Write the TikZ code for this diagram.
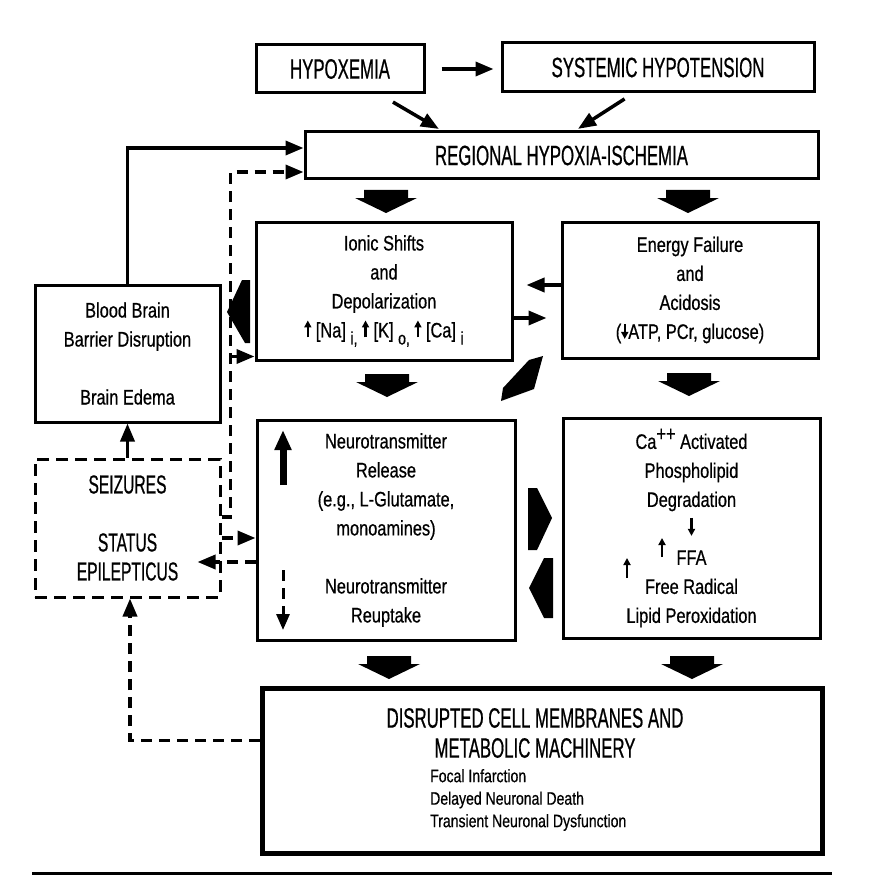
\documentclass[tikz,border=0pt]{standalone}
\usepackage{fontspec}
\setmainfont{Liberation Sans}
\newfontfamily\bodyfont{Liberation Sans}[FakeStretch=0.78, FakeBold=0.6]
\newfontfamily\capsfont{Liberation Sans}[FakeStretch=0.6, FakeBold=0.6]
\usetikzlibrary{arrows.meta,calc}

\tikzset{
  box/.style={draw, line width=3pt, inner sep=0pt, align=center, font=\bodyfont\fontsize{21}{29}\selectfont},
  capsbox/.style={box, font=\capsfont\fontsize{28}{29}\selectfont},
  dashbox/.style={dash pattern=on 12pt off 7pt},
  arr/.style={-{Triangle[length=18pt,width=14pt]}, line width=3.5pt},
  dasharr/.style={arr, dash pattern=on 11pt off 7pt},
  tinyarr/.style={-{Triangle[length=7pt,width=7pt]}, line width=2.2pt, solid},
  blockdown/.pic={\fill (-22,0) -- (22,0) -- (22,8) -- (31,8) -- (0,23) -- (-31,8) -- (-22,8) -- cycle;}
}
\newcommand\upmark[1][17pt]{\tikz[baseline=0pt]\draw[tinyarr] (0pt,0pt) -- (0pt,#1);}
\newcommand\downmark[1][15pt]{\tikz[baseline=0pt]\draw[tinyarr] (0pt,#1) -- (0pt,0pt);}
\newcommand\ionsub[1]{\lower7pt\hbox{\fontsize{18}{18}\selectfont #1}}

\begin{document}
\begin{tikzpicture}[x=1pt, y=-1pt]
  \useasboundingbox (0,0) rectangle (890,896);

  % top row
  \node[capsbox, minimum width=168pt, minimum height=48pt] (hypox) at (340,69) {HYPOXEMIA};
  \node[capsbox, minimum width=312pt, minimum height=49pt] (syst) at (658,67.5) {SYSTEMIC HYPOTENSION};
  \node[capsbox, minimum width=513pt, minimum height=47pt] (regional) at (561.5,155.5) {REGIONAL HYPOXIA-ISCHEMIA};

  % middle row
  \node[box, minimum width=256pt, minimum height=138pt] (ionic) at (384,291)
    {Ionic Shifts\\ and\\ Depolarization\\ \upmark\ [Na] \ionsub{i,}\ \upmark\ [K] \ionsub{o,}\ \upmark\ [Ca] \ionsub{i}};
  \node[box, minimum width=256pt, minimum height=136pt] (energy) at (690,290)
    {Energy Failure\\ and\\ Acidosis\\ (\downmark ATP, PCr, glucose)};
  \node[box, minimum width=185pt, minimum height=137pt] (bbb) at (127.5,353.5)
    {Blood Brain\\ Barrier Disruption\\[29pt] Brain Edema};

  % lower row
  \node[box, dashbox, font=\capsfont\fontsize{26}{29}\selectfont, minimum width=185pt, minimum height=138pt] (seiz) at (127.5,528)
    {SEIZURES\\[29pt] STATUS\\ EPILEPTICUS};
  \node[box, minimum width=258pt, minimum height=220pt] (neuro) at (386,530)
    {Neurotransmitter\\ Release\\ (e.g., L-Glutamate,\\ monoamines)\\[29pt] Neurotransmitter\\ Reuptake};
  \node[box, minimum width=257pt, minimum height=220pt] (ca) at (691.5,528)
    {Ca\raisebox{8pt}{\fontsize{21}{21}\selectfont ++} Activated\\ Phospholipid\\ Degradation\\ \downmark[18pt]\\ FFA\\ Free Radical\\ Lipid Peroxidation};

  % bottom box
  \node[draw, line width=5pt, minimum width=560pt, minimum height=165pt] (disr) at (542,770.5) {};
  \node[font=\capsfont\fontsize{28}{30}\selectfont, align=center] (disrtitle) at (535,733)
    {DISRUPTED CELL MEMBRANES AND\\ METABOLIC MACHINERY};
  \node[font=\bodyfont\fontsize{18}{22.5}\selectfont, align=left, anchor=west, inner sep=0pt] (disrlist) at (430,800)
    {Focal Infarction\\ Delayed Neuronal Death\\ Transient Neuronal Dysfunction};

  % connectors
  \draw[arr, shorten <=16pt, shorten >=7pt] (hypox.east) -- (hypox.east -| syst.west);
  \draw[arr, shorten <=15pt, shorten >=3pt] ([xshift=40pt]hypox.south) -- ([xshift=138pt]regional.north west);
  \draw[arr, shorten <=10pt, shorten >=3pt] ([xshift=-25pt]syst.south) -- ([xshift=272pt]regional.north west);
  \draw[arr] (bbb.north) |- ([yshift=7.5pt]regional.west);
  \draw[dasharr] ([yshift=11pt]seiz.east) -- ++(9,0) coordinate (dbus) |- ([yshift=-16.5pt]regional.west);

  \coordinate (ionin) at ($(ionic.south west)+(0,-5)$);
  \draw[arr] (dbus |- ionin) -- (ionin);
  \coordinate (e1) at ($(energy.west)+(0,-5)$);
  \draw[arr, shorten >=13pt] (e1) -- (e1 -| ionic.east);
  \coordinate (i1) at ($(ionic.east)+(0,27)$);
  \draw[arr, shorten >=14pt] (i1) -- (i1 -| energy.west);

  \coordinate (s1) at ($(seiz.east)+(0,10)$);
  \draw[dasharr] (s1) -- (s1 -| neuro.west);
  \coordinate (s2) at ($(seiz.east)+(0,34)$);
  \draw[dasharr] (s2 -| neuro.west) -- ($(s2)+(-24,0)$);
  \draw[arr] (seiz.north) -- (bbb.south);
  \draw[dasharr] ($(disr.west)+(0,-30)$) -| ([xshift=2.5pt]seiz.south);

  % marks inside boxes
  \draw[-{Triangle[length=20pt,width=16pt]}, line width=7pt] (283,485) -- (283,430);
  \draw[dasharr, line width=3pt, -{Triangle[length=16pt,width=13pt]}] (283,570) -- (283,630);
  \draw[tinyarr] (662,557) -- (662,538);
  \draw[tinyarr] (627,578) -- (627,558);

  % block arrows
  \pic at (386,190) {blockdown};
  \pic at (688,190) {blockdown};
  \pic at (387,374) {blockdown};
  \pic at (689,373) {blockdown};
  \pic at (389,656) {blockdown};
  \pic at (692,656) {blockdown};
  \fill (250,280) -- (242,280) -- (227,312) -- (245,343) -- (250,343) -- cycle;
  \fill (528,488) -- (537,488) -- (552,518) -- (537,550) -- (528,550) -- cycle;
  \fill (553,558) -- (544,558) -- (529,588) -- (544,618) -- (553,618) -- cycle;
  \fill (543,356) -- (529,360) -- (503,388) -- (501,401) -- (534,389) -- cycle;

  % rule
  \draw[line width=3pt] (32,873) -- (832,873);
\end{tikzpicture}
\end{document}
